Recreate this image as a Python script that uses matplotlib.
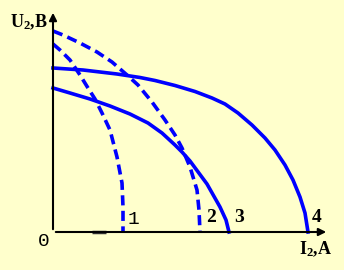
import matplotlib
matplotlib.use('Agg')
import matplotlib.pyplot as plt

plt.rcParams['mathtext.fontset'] = 'custom'
plt.rcParams['mathtext.bf'] = 'Liberation Serif:bold'
plt.rcParams['mathtext.rm'] = 'Liberation Serif:bold'

# curve points (I2, U2), arbitrary units
curve1_i = [0, 7, 17, 27, 35, 42, 49, 57, 64, 69, 70, 70]
curve1_u = [188, 182, 172, 157, 144, 133, 119, 102, 75, 49, 25, 0]

curve2_i = [0, 10, 27, 44, 59, 74, 85, 99, 112, 122, 129, 137, 144, 146, 147]
curve2_u = [201, 197, 189, 180, 170, 157, 147, 130, 112, 97, 84, 65, 42, 22, 0]

curve3_i = [0, 17, 37, 57, 77, 95, 109, 122, 129, 137, 154, 167, 173, 176]
curve3_u = [144, 139, 133, 126, 118, 109, 99, 87, 80, 71, 48, 25, 12, 0]

curve4_i = [0, 30, 64, 87, 102, 122, 142, 159, 172, 185, 199, 212, 222, 232, 240, 247, 252, 255]
curve4_u = [164, 162, 158, 154.5, 151.5, 146.5, 140.5, 134, 128, 119, 107, 94, 82, 67, 52, 35, 19, 0]

curve_labels = ['1', '2', '3', '4']
label_i = [80, 158, 186.5, 264]
label_u = [13, 14, 14, 14]

bg = '#FFFFCC'
blue = '#0000FF'

fig = plt.figure(figsize=(3.44, 2.70), dpi=100, facecolor=bg)
ax = fig.add_axes([0, 0, 1, 1])
ax.set_facecolor(bg)
ax.set_xlim(-53, 291)
ax.set_ylim(-38, 232)
ax.axis('off')

# axes with arrows
ax.annotate('', xy=(276, 0), xytext=(0, 0),
            arrowprops=dict(arrowstyle='-|>', color='black', lw=1.5, mutation_scale=11))
ax.annotate('', xy=(0, 222), xytext=(0, 0),
            arrowprops=dict(arrowstyle='-|>', color='black', lw=1.5, mutation_scale=11))
ax.plot([39, 53], [0, 0], color='#333333', lw=2.5, solid_capstyle='butt')

dash = (0, (2.8, 1.5))
for xs, ys, ls in [(curve1_i, curve1_u, dash), (curve2_i, curve2_u, dash),
                   (curve3_i, curve3_u, '-'), (curve4_i, curve4_u, '-')]:
    ax.plot(xs, ys, color=blue, lw=2.6, linestyle=ls,
            solid_joinstyle='round', dash_joinstyle='round')

for lab, xi, yu in zip(curve_labels, label_i, label_u):
    if lab == '1':
        ax.text(xi, yu, lab, family='Liberation Mono', fontsize=14,
                ha='center', va='center')
    else:
        ax.text(xi, yu, lab, family='Liberation Serif', fontweight='bold',
                fontsize=14, ha='center', va='center')

ax.text(-9, -10, '0', family='Liberation Mono', fontsize=14, ha='center', va='center')
ax.text(263, -17, r'$\mathbf{I_2{,}A}$', fontsize=13, ha='center', va='center')
ax.text(-24, 210, r'$\mathbf{U_2{,}B}$', fontsize=13, ha='center', va='center')

fig.savefig('out.png', dpi=100, facecolor=bg)
